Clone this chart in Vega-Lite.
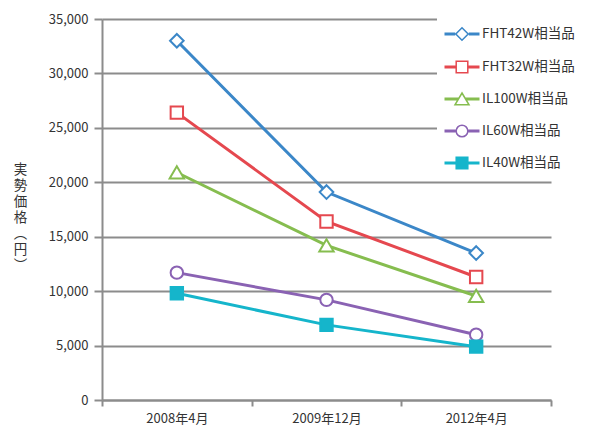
{
  "$schema": "https://vega.github.io/schema/vega-lite/v6.json",
  "width": 449,
  "height": 381,
  "autosize": "none",
  "padding": {"left": 102, "top": 19, "right": 44, "bottom": 30},
  "background": "white",
  "config": {
    "font": "Noto Sans CJK JP",
    "view": {"stroke": null},
    "axis": {
      "labelFont": "Noto Sans CJK JP",
      "labelFontSize": 13,
      "labelColor": "#333333",
      "domainColor": "#8c8c8c",
      "domainWidth": 2,
      "tickColor": "#8c8c8c",
      "tickWidth": 2,
      "gridColor": "#8c8c8c",
      "gridWidth": 2,
      "gridOpacity": 1
    },
    "legend": {
      "labelFont": "Noto Sans CJK JP",
      "labelFontSize": 13.5,
      "labelColor": "#333333"
    }
  },
  "data": {
    "values": [
      {"series": "FHT42W相当品", "period": "2008年4月", "price": 33000},
      {"series": "FHT42W相当品", "period": "2009年12月", "price": 19100},
      {"series": "FHT42W相当品", "period": "2012年4月", "price": 13500},
      {"series": "FHT32W相当品", "period": "2008年4月", "price": 26400},
      {"series": "FHT32W相当品", "period": "2009年12月", "price": 16400},
      {"series": "FHT32W相当品", "period": "2012年4月", "price": 11300},
      {"series": "IL100W相当品", "period": "2008年4月", "price": 20900},
      {"series": "IL100W相当品", "period": "2009年12月", "price": 14200},
      {"series": "IL100W相当品", "period": "2012年4月", "price": 9550},
      {"series": "IL60W相当品", "period": "2008年4月", "price": 11700},
      {"series": "IL60W相当品", "period": "2009年12月", "price": 9200},
      {"series": "IL60W相当品", "period": "2012年4月", "price": 6000},
      {"series": "IL40W相当品", "period": "2008年4月", "price": 9800},
      {"series": "IL40W相当品", "period": "2009年12月", "price": 6900},
      {"series": "IL40W相当品", "period": "2012年4月", "price": 4900}
    ]
  },
  "encoding": {
    "x": {
      "field": "period",
      "type": "nominal",
      "sort": ["2008年4月", "2009年12月", "2012年4月"],
      "scale": {"type": "band", "paddingInner": 0, "paddingOuter": 0},
      "axis": {
        "title": null,
        "labelAngle": 0,
        "tickBand": "extent",
        "tickSize": 6,
        "labelPadding": 6,
        "grid": false
      }
    },
    "y": {
      "field": "price",
      "type": "quantitative",
      "scale": {"domain": [0, 35000], "nice": false},
      "axis": {
        "values": [0, 5000, 10000, 15000, 20000, 25000, 30000, 35000],
        "format": ",d",
        "tickSize": 8,
        "labelPadding": 6,
        "grid": true,
        "title": ["実", "勢", "価", "格", "︵", "円", "︶"],
        "titleAngle": 0,
        "titleX": -82,
        "titleY": 143,
        "titleAlign": "center",
        "titleBaseline": "top",
        "titleLineHeight": 16,
        "titleFontSize": 13.5,
        "titleFontWeight": "normal",
        "titleColor": "#333333",
        "titleFont": "Noto Sans CJK JP"
      }
    },
    "color": {
      "field": "series",
      "type": "nominal",
      "scale": {
        "domain": ["FHT42W相当品", "FHT32W相当品", "IL100W相当品", "IL60W相当品", "IL40W相当品"],
        "range": ["#3b87c8", "#e5484f", "#86bd4f", "#8a62b3", "#15b5cb"]
      },
      "legend": {
        "title": null,
        "orient": "none",
        "legendX": 335,
        "legendY": -2,
        "fillColor": "white",
        "padding": 6,
        "rowPadding": 12,
        "symbolSize": 400,
        "symbolOffset": 8,
        "labelOffset": 9,
        "symbolStrokeWidth": 1.5,
        "encode": {
          "symbols": {
            "update": {
              "shape": {"signal": "datum.value === 'FHT42W相当品' ? 'M-1.75,-0.07H-0.68M-1.75,0.07H-0.68M0.68,-0.07H1.75M0.68,0.07H1.75M0,-0.62L0.62,0L0,0.62L-0.62,0Z' : datum.value === 'FHT32W相当品' ? 'M-1.75,-0.07H-0.58M-1.75,0.07H-0.58M0.58,-0.07H1.75M0.58,0.07H1.75M-0.58,-0.58H0.58V0.58H-0.58Z' : datum.value === 'IL100W相当品' ? 'M-1.75,-0.07H-0.36M-1.75,0.07H-0.36M0.36,-0.07H1.75M0.36,0.07H1.75M0,-0.6L0.7,0.58L-0.7,0.58Z' : datum.value === 'IL60W相当品' ? 'M-1.75,-0.07H-0.58M-1.75,0.07H-0.58M0.58,-0.07H1.75M0.58,0.07H1.75M0.58,0A0.58,0.58,0,1,1,-0.58,0A0.58,0.58,0,1,1,0.58,0Z' : 'M-1.75,-0.07H-0.58M-1.75,0.07H-0.58M0.58,-0.07H1.75M0.58,0.07H1.75M-0.58,-0.58H0.58V0.58H-0.58Z'"},
              "fill": {"signal": "datum.value === 'IL40W相当品' ? '#15b5cb' : 'white'"},
              "fillOpacity": {"value": 1},
              "strokeWidth": {"value": 1.5}
            }
          }
        }
      }
    }
  },
  "layer": [
    {
      "mark": {"type": "line", "strokeWidth": 3}
    },
    {
      "transform": [{"filter": "datum.series === 'FHT42W相当品'"}],
      "mark": {"type": "point", "size": 400, "strokeWidth": 2, "opacity": 1, "filled": false, "fill": "white", "fillOpacity": 1, "shape": "M0,-0.68L0.68,0L0,0.68L-0.68,0Z"}
    },
    {
      "transform": [{"filter": "datum.series === 'FHT32W相当品'"}],
      "mark": {"type": "point", "size": 400, "strokeWidth": 2, "opacity": 1, "filled": false, "fill": "white", "fillOpacity": 1, "shape": "M-0.62,-0.62H0.62V0.62H-0.62Z"}
    },
    {
      "transform": [{"filter": "datum.series === 'IL100W相当品'"}],
      "mark": {"type": "point", "size": 400, "strokeWidth": 2, "opacity": 1, "filled": false, "fill": "white", "fillOpacity": 1, "shape": "M0,-0.62L0.72,0.6L-0.72,0.6Z"}
    },
    {
      "transform": [{"filter": "datum.series === 'IL60W相当品'"}],
      "mark": {"type": "point", "size": 400, "strokeWidth": 2, "opacity": 1, "filled": false, "fill": "white", "fillOpacity": 1, "shape": "M0.62,0A0.62,0.62,0,1,1,-0.62,0A0.62,0.62,0,1,1,0.62,0Z"}
    },
    {
      "transform": [{"filter": "datum.series === 'IL40W相当品'"}],
      "mark": {"type": "point", "size": 400, "strokeWidth": 2, "opacity": 1, "filled": false, "fill": "#15b5cb", "fillOpacity": 1, "shape": "M-0.62,-0.62H0.62V0.62H-0.62Z"}
    }
  ]
}
